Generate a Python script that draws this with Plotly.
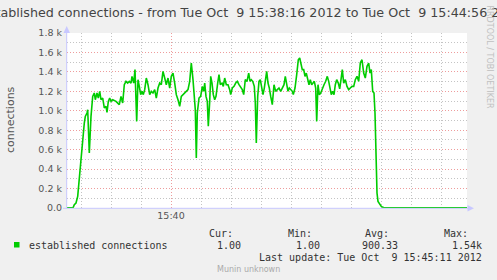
import pandas as pd
import plotly.graph_objects as go

# ---------------- data ----------------
start_time = "2012-10-09 15:38:16"
end_time = "2012-10-09 15:44:56"
# seconds after start_time
t_sec = [0, 6, 7.3, 9, 10.7, 12.3, 14, 15.7, 17.3, 18.3, 20, 20.7, 22.3, 24, 25.7, 27.3, 28.3, 30,
         31.3, 32.7, 34, 35.7, 37.3, 39, 40, 41.3, 42.7, 44, 45.7, 49, 50.7, 52.3, 54, 55.7, 57.3,
         59, 60.7, 62.3, 64, 65, 66.7, 68, 69.7, 71, 72.3, 73.7, 75, 76.3, 77.7, 79.3, 81, 82.7,
         84.3, 86, 87.7, 89.3, 91, 92.7, 94.3, 96, 97.7, 99.3, 101, 102.7, 104.3, 106, 107.7,
         109.3, 111, 112.7, 114.3, 116, 117.7, 119.3, 121, 122.7, 124.3, 126, 127.3, 128.3, 129.3,
         130.3, 132, 133.7, 135.3, 136.7, 137.7, 139, 140.3, 141.3, 142.7, 143.7, 145, 146.3,
         147.7, 149, 150.7, 152, 153.3, 155, 156.3, 157.7, 159.3, 161, 162.7, 163.7, 165.3, 167,
         168.7, 170.3, 172, 173.7, 175.3, 176.7, 178.3, 180, 181.7, 183, 184.3, 185.7, 187.3,
         188.3, 189.3, 190.7, 192, 193.3, 194.7, 196, 197.3, 198.7, 199.7, 201, 202.3, 203.7,
         205.3, 207, 208.7, 210.3, 212, 213.7, 215.3, 217, 218.3, 219.7, 221, 222.3, 224, 225.3,
         226.3, 228, 229.7, 231.3, 232.7, 234, 235.3, 236.7, 238, 239.3, 240.7, 242, 243.3, 244.7,
         246, 247.3, 248.7, 249.7, 251, 252.3, 253.7, 255.3, 257, 258.7, 260.3, 261.7, 263, 264.3,
         265.7, 267, 268.3, 269.7, 271.3, 272.7, 274, 275.3, 276.7, 278.3, 280, 281.7, 283.3, 285,
         286.7, 288.3, 290, 291.7, 293.3, 295, 296.7, 298.3, 300, 301.7, 303, 304.3, 305.7, 307,
         308, 308.7, 309.3, 310, 311, 312.7, 314.3, 316, 317.7, 400]
connections = [1, 1, 34, 51, 120, 325, 531, 737, 874, 942, 977, 1011, 566, 942, 1148, 1183, 1114,
               1183, 1131, 1200, 1114, 1131, 1029, 1046, 983, 1097, 1131, 1097, 1114, 1097, 1080,
               1063, 1148, 1080, 1268, 1303, 1285, 1303, 1285, 1354, 1285, 1423, 891, 1320, 1251,
               1166, 1200, 1166, 1217, 1337, 1268, 1166, 1200, 1183, 1217, 1131, 1234, 1285, 1268,
               1405, 1337, 1268, 1337, 1234, 1354, 1388, 1285, 1166, 1114, 1046, 1148, 1166, 1183,
               1200, 1217, 1303, 1491, 1320, 1114, 1011, 514, 977, 1131, 1148, 1251, 1200, 1285,
               1148, 1097, 840, 1097, 1354, 1285, 1166, 1114, 1148, 1285, 1371, 1268, 1285, 1251,
               1337, 1268, 1268, 1217, 1166, 1234, 1251, 1285, 1303, 1268, 1234, 1217, 1166, 1320,
               1303, 1388, 1303, 1320, 1303, 1251, 1080, 669, 1148, 1303, 1320, 1251, 1166, 1234,
               1337, 1405, 1285, 1234, 1148, 1063, 1268, 1200, 1217, 1234, 1200, 1234, 1268, 1354,
               1285, 1200, 1234, 1217, 1200, 1166, 1234, 1371, 1525, 1543, 1491, 1423, 1423, 1354,
               1388, 1337, 1268, 1320, 1268, 1285, 1303, 1234, 891, 1268, 1166, 1183, 1234, 1268,
               1303, 1354, 1303, 1217, 1166, 1200, 1166, 1268, 1320, 1285, 1226, 1320, 1423, 1285,
               1320, 1251, 1217, 1234, 1251, 1251, 1320, 1354, 1303, 1491, 1525, 1388, 1337, 1457,
               1491, 1388, 1423, 1200, 1183, 977, 703, 394, 154, 68, 34, 17, 7, 1, 1]
y_tick_values = [0, 200, 400, 600, 800, 1000, 1200, 1400, 1600, 1800]
y_tick_labels = ["0.0", "0.2 k", "0.4 k", "0.6 k", "0.8 k", "1.0 k", "1.2 k", "1.4 k", "1.6 k", "1.8 k"]
series_name = "established connections"
stat_headers = ["Cur:", "Min:", "Avg:", "Max:"]
stat_values = ["1.00", "1.00", "900.33", "1.54k"]
title_text = "established connections - from Tue Oct  9 15:38:16 2012 to Tue Oct  9 15:44:56 2012"
last_update = "Last update: Tue Oct  9 15:45:11 2012"
y_title = "connections"

times = pd.Timestamp(start_time) + pd.to_timedelta(t_sec, unit="s")

# ---------------- layout helpers ----------------
W_IMG, H_IMG = 497, 280
L, R, T, B = 67, 30, 33, 72
PW, PH = W_IMG - L - R, H_IMG - T - B
def px(x):
    return (x - L) / PW
def py(y):
    return (H_IMG - B - y) / PH

BG = "#F0F0F0"
AXIS = "#C8C8FF"
MINOR = "#C4C4C4"
MAJOR = "#EE9C9C"
DASH = "1px,2px"

fig = go.Figure()
fig.add_trace(go.Scatter(x=times, y=connections, mode="lines",
                         line=dict(color="#00CC00", width=1.6), hoverinfo="skip",
                         name=series_name, showlegend=False))

annotations = []
def txt(x, y, s, size, color, family="DejaVu Sans", xanchor="left", angle=0):
    annotations.append(dict(text=s, x=px(x), y=py(y), xref="paper", yref="paper",
                            xanchor=xanchor, yanchor="middle", showarrow=False,
                            textangle=angle,
                            font=dict(family=family, size=size, color=color)))

txt(-21, 13, title_text, 12.7, "#444444")
txt(489.5, 57, "RRDTOOL / TOBI OETIKER", 8, "#C0C0C0", xanchor="center", angle=90)
txt(10, 120, y_title, 11, "#555555", xanchor="center", angle=-90)

MONO = "DejaVu Sans Mono"
txt(27, 245, series_name, 10, "#333333", MONO)
hdr_right = [235, 313.5, 391, 469.5]
val_right = [242.5, 321.5, 399.5, 483.5]
for h, xr in zip(stat_headers, hdr_right):
    txt(xr, 233.5, h, 10, "#333333", MONO, xanchor="right")
for v, xr in zip(stat_values, val_right):
    txt(xr, 245, v, 10, "#333333", MONO, xanchor="right")
txt(483.5, 257.5, last_update, 10, "#333333", MONO, xanchor="right")
txt(248.5, 269, "Munin unknown", 8, "#AAAAAA", xanchor="center")

shapes = [
    # legend colour box
    dict(type="rect", xref="paper", yref="paper", x0=px(14), x1=px(19.5), y0=py(247.5), y1=py(242),
         fillcolor="#00CC00", line=dict(width=0)),
    # y axis arrow
    dict(type="line", xref="paper", yref="paper", x0=px(66.7), x1=px(66.7), y0=py(208.5), y1=py(30),
         line=dict(color=AXIS, width=1)),
    dict(type="path", xref="paper", yref="paper",
         path=f"M {px(63.5)} {py(33)} L {px(70)} {py(33)} L {px(66.7)} {py(26)} Z",
         fillcolor=AXIS, line=dict(width=0)),
    # x axis arrow
    dict(type="line", xref="paper", yref="paper", x0=px(63), x1=px(470), y0=py(208.3), y1=py(208.3),
         line=dict(color=AXIS, width=1)),
    dict(type="path", xref="paper", yref="paper",
         path=f"M {px(467.5)} {py(205)} L {px(467.5)} {py(211.6)} L {px(474)} {py(208.3)} Z",
         fillcolor=AXIS, line=dict(width=0)),
]

fig.update_layout(
    width=W_IMG, height=H_IMG,
    margin=dict(l=L, r=R, t=T, b=B, pad=0),
    paper_bgcolor=BG, plot_bgcolor="white",
    showlegend=False,
    annotations=annotations, shapes=shapes,
    font=dict(family="DejaVu Sans", size=9.5, color="#555555"),
)
fig.update_xaxes(
    type="date", range=[start_time, end_time],
    tickmode="linear", tick0="2012-10-09 15:40:00", dtick=300000, tickformat="%H:%M",
    showgrid=True, gridcolor=MAJOR, griddash=DASH, gridwidth=1,
    minor=dict(tickmode="linear", tick0="2012-10-09 15:38:30", dtick=30000,
               showgrid=True, gridcolor=MINOR, griddash=DASH, gridwidth=1),
    ticks="", showline=False, zeroline=False, automargin=False,
    tickfont=dict(family="DejaVu Sans", size=9.5, color="#555555"),
)
fig.update_yaxes(
    range=[0, 1800], tickmode="array", tickvals=y_tick_values, ticktext=y_tick_labels,
    showgrid=True, gridcolor=MAJOR, griddash=DASH, gridwidth=1,
    minor=dict(tickmode="linear", tick0=0, dtick=100,
               showgrid=True, gridcolor=MINOR, griddash=DASH, gridwidth=1),
    ticks="", showline=False, zeroline=False, automargin=False,
    ticklabelstandoff=4,
    tickfont=dict(family="DejaVu Sans", size=9.5, color="#555555"),
)

fig.write_html("out.html")
